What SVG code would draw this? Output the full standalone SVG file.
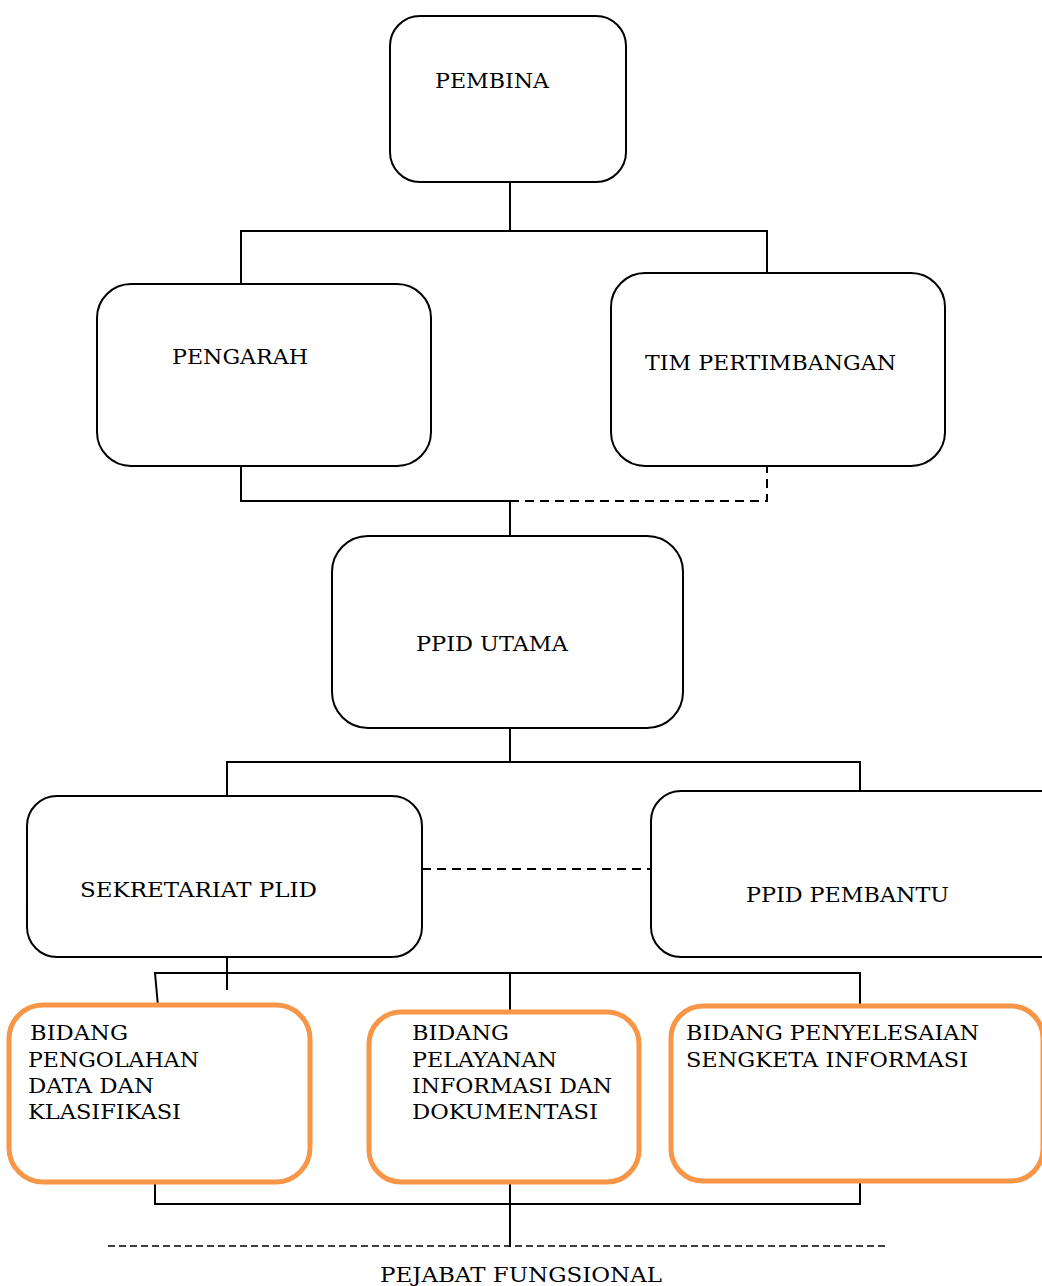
<svg xmlns="http://www.w3.org/2000/svg" width="1042" height="1286" viewBox="0 0 1042 1286">
<style>
.box{fill:#fff;stroke:#000;stroke-width:2}
.obox{fill:#fff;stroke:#F79646;stroke-width:5}
.t{font-family:"DejaVu Serif","Liberation Serif",serif;font-size:20px;fill:#000}
.c{fill:none;stroke:#000;stroke-width:2}
.d{fill:none;stroke:#000;stroke-width:2;stroke-dasharray:9 6}
.d2{fill:none;stroke:#000;stroke-width:1.6;stroke-dasharray:7 4}
</style>
<rect width="1042" height="1286" fill="#fff"/>
<g id="connectors">
<path class="c" d="M510 182V231M241 284V231H767V273"/>
<path class="c" d="M241 466V501H510V536"/>
<path class="d" d="M510 501H767V466"/>
<path class="c" d="M510 728V762M227 796V762H860V791"/>
<path class="d" d="M422 869H651"/>
<path class="c" d="M227 957V990M158 1006L155 973H860V1012M510 973V1012"/>
<path class="c" d="M155 1182V1204H860V1182M510 1182V1247"/>
<path class="d2" d="M108 1246H886"/>
</g>
<g id="pembina"><rect class="box" x="390" y="16" width="236" height="166" rx="30"/><text class="t" x="435" y="88" textLength="114" lengthAdjust="spacingAndGlyphs">PEMBINA</text></g>
<g id="pengarah"><rect class="box" x="97" y="284" width="334" height="182" rx="34"/><text class="t" x="172" y="364" textLength="136" lengthAdjust="spacingAndGlyphs">PENGARAH</text></g>
<g id="tim"><rect class="box" x="611" y="273" width="334" height="193" rx="34"/><text class="t" x="645" y="370" textLength="251" lengthAdjust="spacingAndGlyphs">TIM PERTIMBANGAN</text></g>
<g id="ppid-utama"><rect class="box" x="332" y="536" width="351" height="192" rx="36"/><text class="t" x="416" y="651" textLength="152" lengthAdjust="spacingAndGlyphs">PPID UTAMA</text></g>
<g id="sekretariat"><rect class="box" x="27" y="796" width="395" height="161" rx="30"/><text class="t" x="80" y="897" textLength="237" lengthAdjust="spacingAndGlyphs">SEKRETARIAT PLID</text></g>
<g id="ppid-pembantu"><rect class="box" x="651" y="791" width="420" height="166" rx="30"/><text class="t" x="746" y="902" textLength="203" lengthAdjust="spacingAndGlyphs">PPID PEMBANTU</text></g>
<g id="bidang1"><rect class="obox" x="9" y="1005" width="301" height="177" rx="34"/>
<text class="t" x="30" y="1040" textLength="98" lengthAdjust="spacingAndGlyphs">BIDANG</text>
<text class="t" x="28" y="1067" textLength="171" lengthAdjust="spacingAndGlyphs">PENGOLAHAN</text>
<text class="t" x="28" y="1093" textLength="126" lengthAdjust="spacingAndGlyphs">DATA DAN</text>
<text class="t" x="28" y="1119" textLength="153" lengthAdjust="spacingAndGlyphs">KLASIFIKASI</text></g>
<g id="bidang2"><rect class="obox" x="369" y="1012" width="270" height="170" rx="32"/>
<text class="t" x="412" y="1040" textLength="97" lengthAdjust="spacingAndGlyphs">BIDANG</text>
<text class="t" x="412" y="1067" textLength="145" lengthAdjust="spacingAndGlyphs">PELAYANAN</text>
<text class="t" x="412" y="1093" textLength="200" lengthAdjust="spacingAndGlyphs">INFORMASI DAN</text>
<text class="t" x="412" y="1119" textLength="186" lengthAdjust="spacingAndGlyphs">DOKUMENTASI</text></g>
<g id="bidang3"><rect class="obox" x="671" y="1006" width="372" height="175" rx="32"/>
<text class="t" x="686" y="1040" textLength="293" lengthAdjust="spacingAndGlyphs">BIDANG PENYELESAIAN</text>
<text class="t" x="686" y="1067" textLength="282" lengthAdjust="spacingAndGlyphs">SENGKETA INFORMASI</text></g>
<g id="pejabat"><text class="t" x="380" y="1282" textLength="282" lengthAdjust="spacingAndGlyphs">PEJABAT FUNGSIONAL</text></g>
</svg>
